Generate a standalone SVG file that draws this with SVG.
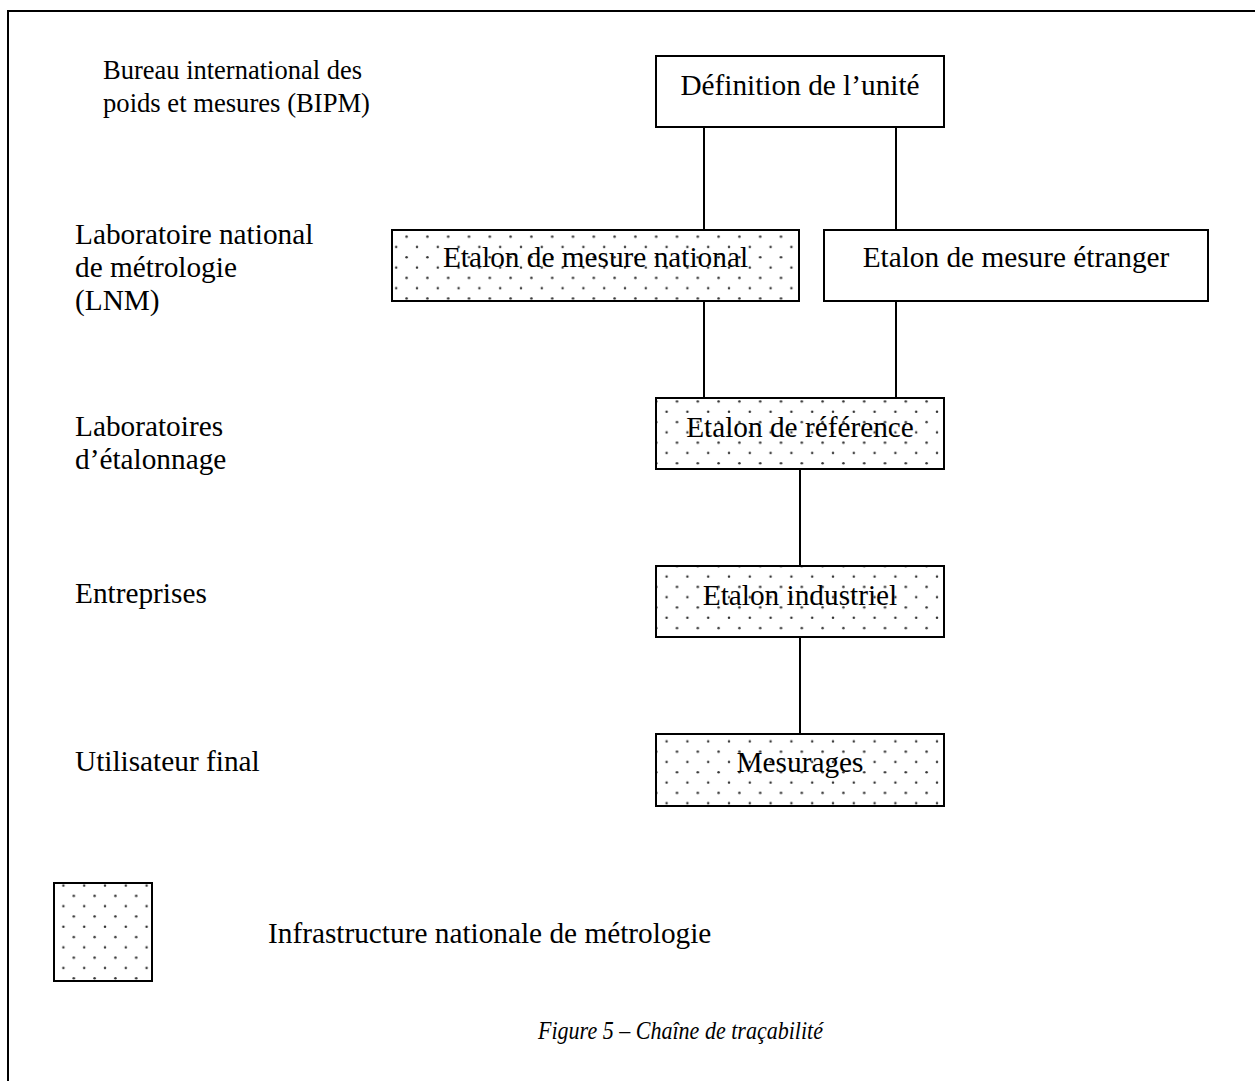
<svg xmlns="http://www.w3.org/2000/svg" width="1255" height="1081" viewBox="0 0 1255 1081">
  <style>
    text { font-family: "Liberation Serif", "Times New Roman", serif; font-size: 29.3px; fill: #000; }
    .c { text-anchor: middle; }
    .small { font-size: 28px; }
    .cap { font-style: italic; font-size: 25px; }
    .box { stroke: #000; stroke-width: 2; }
    .plain { fill: #fff; }
    .dotted { fill: url(#dots); }
    .link { stroke: #000; stroke-width: 2; fill: none; }
  </style>
  <defs>
    <!-- staggered dot screen marking the national metrology infrastructure -->
    <pattern id="dots" patternUnits="userSpaceOnUse" x="1" y="0" width="20.8" height="20.6">
      <rect width="20.8" height="20.6" fill="#fff"/>
      <circle cx="10.4" cy="10" r="1.25" fill="#333"/>
      <circle cx="0" cy="20.3" r="1.25" fill="#333"/>
      <circle cx="20.8" cy="20.3" r="1.25" fill="#333"/>
      <circle cx="0" cy="-0.3" r="1.25" fill="#333"/>
      <circle cx="20.8" cy="-0.3" r="1.25" fill="#333"/>
    </pattern>
  </defs>

  <rect width="1255" height="1081" fill="#fff"/>
  <!-- page frame -->
  <rect x="8" y="11" width="1270" height="1100" fill="none" stroke="#000" stroke-width="2"/>

  <!-- level labels -->
  <g id="levels">
    <text class="small" x="103" y="79" textLength="259" lengthAdjust="spacingAndGlyphs">Bureau international des</text>
    <text class="small" x="103" y="112" textLength="267" lengthAdjust="spacingAndGlyphs">poids et mesures (BIPM)</text>
    <text x="75" y="244">Laboratoire national</text>
    <text x="75" y="277">de métrologie</text>
    <text x="75" y="310">(LNM)</text>
    <text x="75" y="436">Laboratoires</text>
    <text x="75" y="469">d’étalonnage</text>
    <text x="75" y="603">Entreprises</text>
    <text x="75" y="771">Utilisateur final</text>
  </g>

  <!-- connectors -->
  <g id="connectors">
    <line class="link" x1="704" y1="127" x2="704" y2="230"/>
    <line class="link" x1="896" y1="127" x2="896" y2="230"/>
    <line class="link" x1="704" y1="301" x2="704" y2="398"/>
    <line class="link" x1="896" y1="301" x2="896" y2="398"/>
    <line class="link" x1="800" y1="469" x2="800" y2="566"/>
    <line class="link" x1="800" y1="637" x2="800" y2="734"/>
  </g>

  <g id="definition">
    <rect class="box plain" x="656" y="56" width="288" height="71"/>
    <text class="c" x="800" y="95">Définition de l’unité</text>
  </g>
  <g id="etalon-national">
    <rect class="box dotted" x="392" y="230" width="407" height="71"/>
    <text class="c" x="595.5" y="267">Etalon de mesure national</text>
  </g>
  <g id="etalon-etranger">
    <rect class="box plain" x="824" y="230" width="384" height="71"/>
    <text class="c" x="1016" y="267">Etalon de mesure étranger</text>
  </g>
  <g id="etalon-reference">
    <rect class="box dotted" x="656" y="398" width="288" height="71"/>
    <text class="c" x="800" y="437">Etalon de référence</text>
  </g>
  <g id="etalon-industriel">
    <rect class="box dotted" x="656" y="566" width="288" height="71"/>
    <text class="c" x="800" y="605">Etalon industriel</text>
  </g>
  <g id="mesurages">
    <rect class="box dotted" x="656" y="734" width="288" height="72"/>
    <text class="c" x="800" y="772">Mesurages</text>
  </g>

  <!-- legend -->
  <g id="legend">
    <rect class="box dotted" x="54" y="883" width="98" height="98"/>
    <text x="268" y="943">Infrastructure nationale de métrologie</text>
  </g>

  <text id="caption" class="c cap" x="680.5" y="1039" textLength="285" lengthAdjust="spacingAndGlyphs">Figure 5 – Chaîne de traçabilité</text>
</svg>
